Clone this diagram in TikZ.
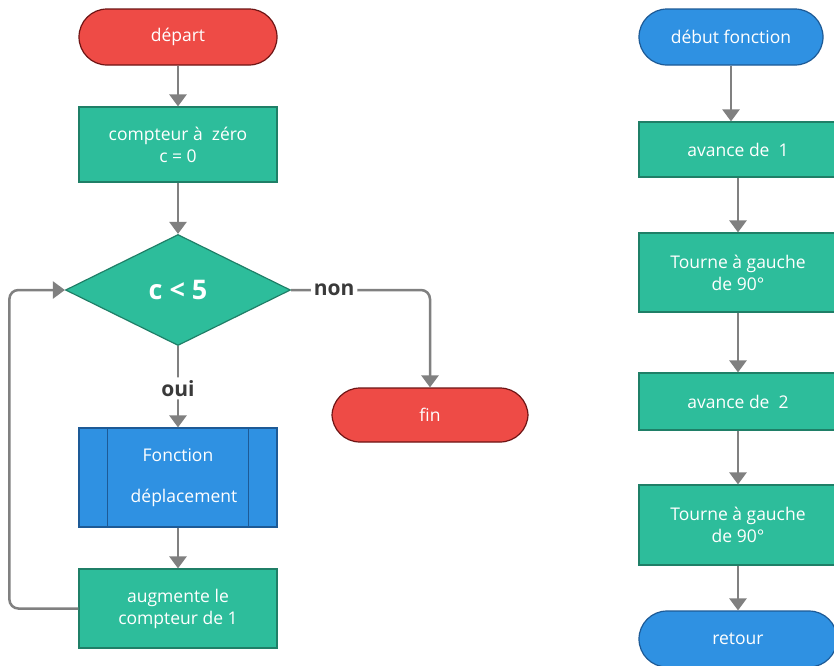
\documentclass[tikz,border=0pt]{standalone}
\usepackage{fontspec}
\setmainfont{Open Sans}
\usetikzlibrary{arrows.meta,shapes.geometric}
\definecolor{termfill}{HTML}{EE4B46}
\definecolor{termstroke}{HTML}{6E1414}
\definecolor{stepfill}{HTML}{2DBD9B}
\definecolor{stepstroke}{HTML}{1F7F67}
\definecolor{callfill}{HTML}{2F91E2}
\definecolor{callstroke}{HTML}{1D5A96}
\definecolor{flowstroke}{HTML}{808080}
\definecolor{labeltext}{HTML}{3A3A3A}
\tikzset{
  terminal/.style={
    rectangle,
    rounded corners=28pt,
    draw=termstroke,
    fill=termfill,
    line width=1.2pt,
    minimum width=198pt,
    minimum height=56pt,
    text=white,
    font=\fontsize{17.5}{21}\selectfont
  },
  callterm/.style={
    terminal,
    draw=callstroke,
    fill=callfill
  },
  stepbox/.style={
    rectangle,
    draw=stepstroke,
    fill=stepfill,
    line width=1.2pt,
    minimum width=198pt,
    align=center,
    text=white,
    font=\fontsize{17.5}{22}\selectfont
  },
  callbox/.style={
    stepbox,
    draw=callstroke,
    fill=callfill
  },
  test/.style={
    diamond,
    draw=stepstroke,
    fill=stepfill,
    line width=1.2pt,
    minimum width=225pt,
    minimum height=111pt,
    inner sep=0pt,
    text=white,
    font=\fontsize{27}{30}\selectfont\bfseries
  },
  flow/.style={
    -{Triangle[length=12pt,width=17pt]},
    draw=flowstroke,
    line width=2.5pt,
    rounded corners=9pt
  },
  flowlabel/.style={
    fill=white,
    inner sep=3pt,
    text=labeltext,
    font=\fontsize{21}{24}\selectfont\bfseries
  }
}

\begin{document}
\begin{tikzpicture}[x=1pt,y=-1pt]
  \clip (0,0) rectangle (834,665);
  \fill[white] (0,0) rectangle (834,665);

  % Main program.
  \node[terminal] (depart) at (178,37) {départ};
  \node[stepbox,minimum height=75pt] (zero) at (178,144.5) {compteur à~~zéro\\c = 0};
  \node[test] (cmp) at (178,290) {c < 5};
  \node[terminal,minimum width=196pt,minimum height=54pt] (fin) at (430,415) {fin};
  \node[callbox,minimum height=99pt] (move) at (178,477.5)
    {Fonction\\[19pt]\hspace*{12pt}déplacement};
  \draw[callstroke,line width=1.2pt]
    ([xshift=29pt]move.north west) -- ([xshift=29pt]move.south west)
    ([xshift=-29pt]move.north east) -- ([xshift=-29pt]move.south east);
  \node[stepbox,minimum height=79pt] (incr) at (178,608.5) {augmente le\\compteur de 1};

  % Function body.
  \node[callterm,minimum width=184pt] (deb) at (731,37) {début fonction};
  \node[stepbox,minimum height=55pt] (fwd1) at (738,149.5) {avance de~~1};
  \node[stepbox,minimum height=79pt] (left1) at (738,272.5) {Tourne à gauche\\de 90°};
  \node[stepbox,minimum height=57pt] (fwd2) at (738,401.5) {avance de~~2};
  \node[stepbox,minimum height=80pt] (left2) at (738,525) {Tourne à gauche\\de 90°};
  \node[callterm] (ret) at (738,639) {retour};

  % Main loop.
  \draw[flow] (depart) -- (zero);
  \draw[flow] (zero) -- (cmp);
  \draw[flow] (cmp.east) -- node[flowlabel,pos=0.31] {non} (cmp.east -| fin.north) -- (fin.north);
  \draw[flow] (cmp.south) -- node[flowlabel,pos=0.52] {oui} (move.north);
  \draw[flow] (move) -- (incr);
  \draw[flow] (incr.west) -- ++(-69,0) |- (cmp.west);

  % Function steps.
  \draw[flow] (deb.south) -- (deb.south |- fwd1.north);
  \draw[flow] (fwd1) -- (left1);
  \draw[flow] (left1) -- (fwd2);
  \draw[flow] (fwd2) -- (left2);
  \draw[flow] (left2) -- (ret);
\end{tikzpicture}
\end{document}
